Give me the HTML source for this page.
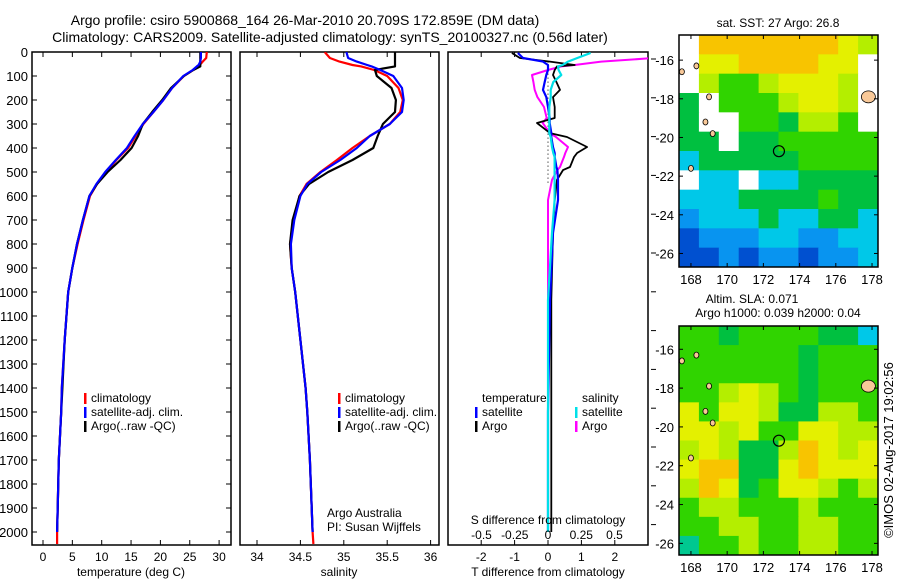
<!DOCTYPE html>
<html><head><meta charset="utf-8">
<style>
html,body{margin:0;padding:0;background:#fff;}
svg{display:block;font-family:"Liberation Sans",sans-serif;}
text{fill:#000;}
</style></head>
<body>
<svg id="fig" width="900" height="580" viewBox="0 0 900 580" xmlns="http://www.w3.org/2000/svg">
<defs>
<clipPath id="c1"><rect x="32" y="52" width="199" height="493"/></clipPath>
<clipPath id="c2"><rect x="240" y="52" width="199" height="493"/></clipPath>
<clipPath id="c3"><rect x="448" y="52" width="200" height="493"/></clipPath>
</defs>
<text x="305" y="25" font-size="14" text-anchor="middle">Argo profile: csiro 5900868_164 26-Mar-2010 20.709S 172.859E (DM data)</text>
<text x="330" y="42" font-size="14" text-anchor="middle">Climatology: CARS2009. Satellite-adjusted climatology: synTS_20100327.nc (0.56d later)</text>
<g id="g1"></g>
<g id="g2"></g>
<g id="g3"></g>
<g id="gm1"></g>
<g id="gm2"></g>
<text transform="translate(893,450) rotate(-90)" font-size="13" text-anchor="middle">©IMOS 02-Aug-2017 19:02:56</text>
</svg>
<script>
const depth = [0,25,40,54,60,75,100,150,200,250,300,350,400,450,500,550,600,700,800,900,1000,1200,1400,1500,1700,1900,2000,2050];
const tClim = [27.9,27.8,27.2,26.7,26.4,25.6,24.0,22.0,20.5,18.8,17.1,15.8,14.5,12.5,10.8,9.2,8.0,6.9,5.9,5.0,4.3,3.7,3.2,3.1,2.7,2.5,2.4,2.4];
const tSat = [26.9,26.9,26.8,26.5,26.2,25.5,23.9,22.0,20.5,18.8,17.0,15.6,14.3,12.4,10.6,9.1,7.9,6.8,5.8,5.0,4.3,3.7,3.2,3.1,2.7,2.5,2.4,null];
const tArgo = [26.8,26.8,26.8,26.8,26.8,25.6,24.0,21.8,20.3,18.6,17.0,16.2,15.1,13.2,11.0,9.2,7.9,6.8,5.8,5.0,4.3,3.7,3.3,3.1,2.7,2.5,2.4,null];
const sClim = [34.78,34.84,34.95,35.10,35.2,35.35,35.50,35.63,35.68,35.65,35.53,35.30,35.10,34.92,34.73,34.57,34.49,34.42,34.38,34.40,34.44,34.50,34.56,34.58,34.61,34.63,34.64,34.65];
const sSat = [35.03,35.05,35.15,35.27,35.32,35.42,35.57,35.67,35.69,35.67,35.53,35.30,35.15,34.96,34.74,34.58,34.50,34.43,34.39,34.40,34.44,34.50,34.56,34.58,34.61,34.63,34.64,null];
const sArgo = [35.59,35.59,35.59,35.59,35.59,35.36,35.38,35.55,35.60,35.59,35.45,35.39,35.34,35.10,34.82,34.60,34.49,34.41,34.38,34.40,34.44,34.50,34.56,34.58,34.61,34.63,34.64,null];
const dDepth = [4,25,40,54,60,75,96,125,158,188,229,275,296,338,354,396,421,437,479,492,533,617,754,1033,1500,2000];
const dtArgo = [-1.08,-0.84,0.06,0.8,0.27,0.2,0.15,0.25,0.36,0.15,0.2,0.2,-0.33,0.06,0.57,1.17,0.87,0.78,0.66,0.45,0.27,0.2,0.15,0.1,0.1,0.1];
const dtSat = [-0.9,-0.75,-0.15,0,0,0,-0.05,-0.1,-0.15,-0.05,0,0.05,0.05,0.1,0.1,0.15,0.2,0.2,0.25,0.28,0.3,0.3,0.15,0.06,0.0,0.0];
const dsSat = [0.32,0.22,0.15,0.11,0.075,0.08,0.1,0.04,0.02,0.02,0.01,0.01,0.01,0.01,0.02,0.03,0.04,0.05,0.05,0.05,0.05,0.05,0.03,0.0,0.0,0.0];
const dsArgo = [1.5,0.8,0.4,0.2,0.1,0.0,-0.12,-0.11,-0.1,-0.08,-0.03,-0.01,-0.04,0.015,0.06,0.15,0.13,0.12,0.09,0.07,0.03,0,0,0,0,0];
const depthTicks = [0,100,200,300,400,500,600,700,800,900,1000,1100,1200,1300,1400,1500,1600,1700,1800,1900,2000];
const tTicks = [0,5,10,15,20,25,30];
const sTicks = [34,34.5,35,35.5,36];
const tdTicks = [-2,-1,0,1,2];
const sdTicks = [-0.5,-0.25,0,0.25,0.5];
const sstGrid = [
"WOOOOOOOYL","WYYOOOOYYW","WLGGLYYYLW","MWGGGLYYLW","MWWGGMLLGW","MMWMMGGGGG",
"CMMMMMGGGG","WCCWCCMMMM","CCCMMMMGMM","BCCCMCCMMC","DBBBCCBBCC","DDBDBBDBBC"];
const slaGrid = [
"GGMGGGGMMC","GGGGGGMGGG","GGGGGGMGGG","GGLYLGMGGG","YGYYLMMLLG","YYLYGGYYLL",
"LYLMMLOYLY","YOOMMYOYYY","LOYMGYYLGL","GLLGGGLGGG","GGLLGGLLGG","TGGLGGLLGG"];
const lonTicks = [168,170,172,174,176,178];
const latTicks = [-16,-18,-20,-22,-24,-26];
const argoLon = 172.859, argoLat = -20.709;

const NS='http://www.w3.org/2000/svg';
function mk(parent,tag,attrs){const e=document.createElementNS(NS,tag);for(const k in attrs)e.setAttribute(k,attrs[k]);parent.appendChild(e);return e;}
const yD=d=>52+d*0.24;
const xT=t=>43+t*5.87;
const xS=s=>257+(s-34)*86.8;
const xTd=v=>548+v*33.4;
const xSd=v=>548+v*133;
function pathOf(xs,ys,fx,fy){let p='';let started=false;for(let i=0;i<xs.length;i++){if(xs[i]==null)continue;p+=(started?'L':'M')+fx(xs[i]).toFixed(1)+','+fy(ys[i]).toFixed(1);started=true;}return p;}
function txt(g,x,y,s,size,anchor){const t=mk(g,'text',{x:x,y:y,'font-size':size||12,'text-anchor':anchor||'start'});t.textContent=s;return t;}

function panel(g,x0,x1,ticks,fx,tickLabels,clip,yticks){
  const box=mk(g,'rect',{x:x0,y:52,width:x1-x0,height:493,fill:'none',stroke:'#000','stroke-width':1.5});
  
  
  ticks.forEach((v,i)=>{const x=fx(v);
    mk(g,'line',{x1:x,y1:52,x2:x,y2:57,stroke:'#000'});
    mk(g,'line',{x1:x,y1:545,x2:x,y2:540,stroke:'#000'});
    if(tickLabels){const t=txt(g,x,561,tickLabels[i],12,'middle');
      
      }
  });
  if(yticks){depthTicks.forEach(d=>{const y=yD(d);
    mk(g,'line',{x1:x0,y1:y,x2:x0+5,y2:y,stroke:'#000'});
    mk(g,'line',{x1:x1,y1:y,x2:x1-5,y2:y,stroke:'#000'});});}
}
function line(g,clip,xs,ys,fx,fy,color,w,name){
  const p=mk(g,'path',{d:pathOf(xs,ys,fx,fy),fill:'none',stroke:color,'stroke-width':w,'clip-path':'url(#'+clip+')','stroke-linejoin':'round'});
  
  
}
function legend(g,x,y,color,label){
  mk(g,'rect',{x:x,y:y-9,width:2.5,height:11,fill:color});
  const t=txt(g,x+7,y,label,12);
  
  
}

const g1=document.getElementById('g1');
panel(g1,32,231,tTicks,xT,tTicks.map(String),'c1',true);
depthTicks.forEach(d=>{const t=txt(g1,28,yD(d)+5,String(d),13,'end');
  
  });
line(g1,'c1',tClim,depth,xT,yD,'#ff0000',2.2,'temp-climatology-line');
line(g1,'c1',tArgo,depth,xT,yD,'#000000',2.2,'temp-argo-line');
line(g1,'c1',tSat,depth,xT,yD,'#0000ff',2.2,'temp-satellite-line');
legend(g1,84,402,'#ff0000','climatology');
legend(g1,84,416,'#0000ff','satellite-adj. clim.');
legend(g1,84,430,'#000000','Argo(..raw -QC)');
let at=txt(g1,131,576,'temperature (deg C)',12,'middle');



const g2=document.getElementById('g2');
panel(g2,240,439,sTicks,xS,sTicks.map(String),'c2',false);
line(g2,'c2',sClim,depth,xS,yD,'#ff0000',2.2,'sal-climatology-line');
line(g2,'c2',sArgo,depth,xS,yD,'#000000',2.2,'sal-argo-line');
line(g2,'c2',sSat,depth,xS,yD,'#0000ff',2.2,'sal-satellite-line');
legend(g2,338,402,'#ff0000','climatology');
legend(g2,338,416,'#0000ff','satellite-adj. clim.');
legend(g2,338,430,'#000000','Argo(..raw -QC)');
at=txt(g2,339,576,'salinity',12,'middle');


at=txt(g2,327,517,'Argo Australia',12);


at=txt(g2,327,531,'PI: Susan Wijffels',12);



const g3=document.getElementById('g3');
panel(g3,448,648,tdTicks,xTd,tdTicks.map(String),'c3',false);
for(let y=59;y<545;y+=38.8){mk(g3,'line',{x1:651,y1:y,x2:656,y2:y,stroke:'#000'});}
mk(g3,'line',{x1:548,y1:yD(40),x2:548,y2:yD(550),stroke:'#000','stroke-dasharray':'1,3'});
line(g3,'c3',dsArgo,dDepth,xSd,yD,'#ff00ff',2,'sal-argo-diff-line');
line(g3,'c3',dtArgo,dDepth,xTd,yD,'#000000',1.8,'temp-argo-diff-line');
line(g3,'c3',dtSat,dDepth,xTd,yD,'#0000ff',2.2,'temp-satellite-diff-line');
line(g3,'c3',dsSat,dDepth,xSd,yD,'#00e0e8',2.2,'sal-satellite-diff-line');
at=txt(g3,482,402,'temperature',12);  
at=txt(g3,582,402,'salinity',12);  
legend(g3,475,416,'#0000ff','satellite');
legend(g3,475,430,'#000000','Argo');
legend(g3,575,416,'#00e0e8','satellite');
legend(g3,575,430,'#ff00ff','Argo');
at=txt(g3,548,524,'S difference from climatology',12,'middle');  
sdTicks.forEach(v=>{const t=txt(g3,xSd(v),539,String(v),12,'middle');
  
  });
at=txt(g3,548,576,'T difference from climatology',12,'middle');  

const palette={O:'#f8c400',Y:'#e4f000',L:'#b4ee00',G:'#30d400',M:'#00c040',T:'#00c890',C:'#00c8e8',B:'#0894f0',D:'#0050d0',W:'#ffffff'};
function drawMap(g,top,bottom,latTop,latBottom,grid,title1,title2){
  const left=679,right=878;
  const xL=lon=>left+(lon-167.34)*(right-left)/(178.33-167.34);
  const yL=lat=>top+(latTop-lat)*(bottom-top)/(latTop-latBottom);
  const rows=grid.length,cols=grid[0].length;
  const cw=(right-left)/cols,ch=(bottom-top)/rows;
  grid.forEach((row,r)=>{for(let c=0;c<cols;c++){
    const cell=mk(g,'rect',{x:left+c*cw,y:top+r*ch,width:cw+0.5,height:ch+0.5,fill:palette[row[c]]});
    
    
  }});
  [[168.3,-16.3],[169,-17.9],[168.8,-19.2],[169.2,-19.8],[167.5,-16.6],[177.8,-17.9],[168,-21.6]].forEach(p=>{
    const big=p[0]>177;
    const l=mk(g,'ellipse',{cx:xL(p[0]),cy:yL(p[1]),rx:big?7:2.5,ry:big?6:3,fill:'#f8c898',stroke:'#000','stroke-width':0.8});
    
    
  });
  const fr=mk(g,'rect',{x:left,y:top,width:right-left,height:bottom-top,fill:'none',stroke:'#000','stroke-width':1.5});
  
  
  lonTicks.forEach(v=>{const x=xL(v);mk(g,'line',{x1:x,y1:top,x2:x,y2:top+4,stroke:'#000'});mk(g,'line',{x1:x,y1:bottom,x2:x,y2:bottom-4,stroke:'#000'});
    const t=txt(g,x,bottom+17,String(v),13,'middle');
    
    });
  latTicks.forEach(v=>{const y=yL(v);mk(g,'line',{x1:left,y1:y,x2:left+4,y2:y,stroke:'#000'});mk(g,'line',{x1:right,y1:y,x2:right-4,y2:y,stroke:'#000'});
    const t=txt(g,674,y+5,String(v),13,'end');
    
    });
  const c=mk(g,'circle',{cx:xL(argoLon),cy:yL(argoLat),r:5.5,fill:'none',stroke:'#000','stroke-width':1.2});
  
  
  let t=txt(g,title2?752:778,title2?top-23:top-8,title1,12,'middle');
  
  
  if(title2){t=txt(g,778,top-9,title2,12,'middle');
    
    }
}
drawMap(document.getElementById('gm1'),35,267,-14.7,-26.7,sstGrid,'sat. SST: 27 Argo: 26.8',null);
drawMap(document.getElementById('gm2'),326,555,-14.8,-26.6,slaGrid,'Altim. SLA: 0.071','Argo h1000: 0.039 h2000: 0.04');
</script>
</body></html>
